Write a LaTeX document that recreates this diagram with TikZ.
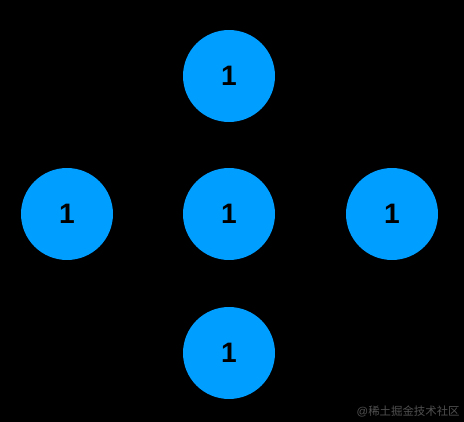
\documentclass[tikz,border=0pt]{standalone}
\usepackage{fontspec}
\setmainfont{Liberation Sans}
\newfontfamily\cjk{Noto Sans CJK SC}
\definecolor{cellblue}{RGB}{0,158,255}
\definecolor{markgray}{RGB}{80,80,80}
\tikzset{cell/.style={circle,fill=cellblue,minimum size=1.84cm,inner sep=0pt,font=\fontsize{16}{16}\selectfont\bfseries}}
\begin{document}
\begin{tikzpicture}[x=0.02cm,y=-0.02cm]
\fill[black] (0,0) rectangle (464,422);
\useasboundingbox (0,0) rectangle (464,422);
\node[cell] (top) at (229,76) {1};
\node[cell] (left) at (67,214) {1};
\node[cell] (mid) at (229,214) {1};
\node[cell] (right) at (392,214) {1};
\node[cell] (bottom) at (229,353) {1};
\node[text=markgray,anchor=east,inner sep=0pt] (mark) at (460,411) {\fontsize{6.5}{7}\selectfont @\cjk 稀土掘金技术社区};
\end{tikzpicture}
\end{document}
